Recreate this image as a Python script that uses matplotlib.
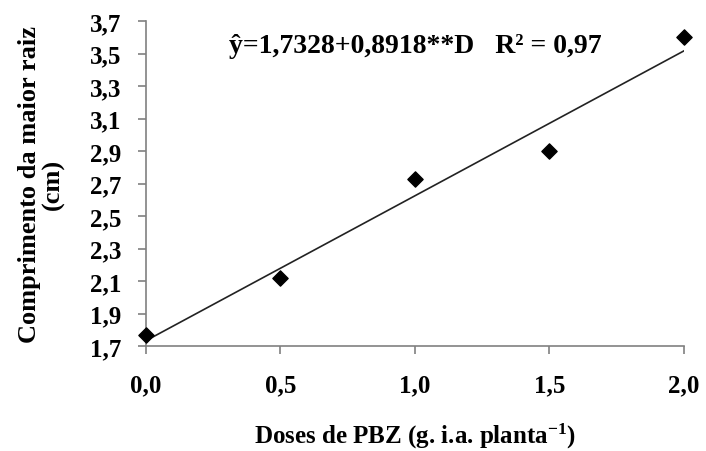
import matplotlib
matplotlib.use("Agg")
import matplotlib.pyplot as plt
import numpy as np

# data
doses = [0.0, 0.5, 1.0, 1.5, 2.0]
comprimento = [1.77, 2.12, 2.73, 2.90, 3.60]
intercept = 1.7328
slope = 0.8918
y_ticks = [1.7, 1.9, 2.1, 2.3, 2.5, 2.7, 2.9, 3.1, 3.3, 3.5, 3.7]
x_ticks = [0.0, 0.5, 1.0, 1.5, 2.0]

plt.rcParams["font.family"] = ["Liberation Serif", "DejaVu Serif"]
plt.rcParams["font.weight"] = "bold"
plt.rcParams["mathtext.fontset"] = "custom"
plt.rcParams["mathtext.rm"] = "Liberation Serif:bold"
plt.rcParams["mathtext.it"] = "Liberation Serif:bold"
plt.rcParams["mathtext.bf"] = "Liberation Serif:bold"

fig = plt.figure(figsize=(7.06, 4.52), dpi=100)
ax = fig.add_axes([0.2068, 0.2323, 0.7620, 0.7190])

ax.scatter(doses, comprimento, marker="D", s=60, color="black", zorder=3, clip_on=False)
xs = np.array([doses[0], doses[-1]])
ax.plot(xs, intercept + slope * xs, color="#222222", linewidth=1.2)

ax.set_xlim(0, 2.0)
ax.set_ylim(1.7, 3.7)
ax.set_xticks(x_ticks)
ax.set_yticks(y_ticks)
ax.set_xticklabels([f"{v:.1f}".replace(".", ",") for v in x_ticks], fontsize=18, fontweight="bold")
ax.set_yticklabels([f"{v:.1f}".replace(".", ",") for v in y_ticks], fontsize=18, fontweight="bold")

for side in ("top", "right"):
    ax.spines[side].set_visible(False)
for side in ("left", "bottom"):
    ax.spines[side].set_color("#808080")
    ax.spines[side].set_linewidth(1.2)
ax.tick_params(axis="both", colors="#808080", labelcolor="black", length=6, width=1.2)
ax.tick_params(axis="y", pad=12)
ax.tick_params(axis="x", pad=14)

ax.set_ylabel("Comprimento da maior raiz\n(cm)", fontsize=19, fontweight="bold", labelpad=18, linespacing=1.0)
ax.set_xlabel("Doses de PBZ (g. i.a. planta$^{-1}$)", fontsize=18, fontweight="bold", labelpad=17)

ax.text(0.5, 0.925, "ŷ=1,7328+0,8918**D   R² = 0,97", transform=ax.transAxes,
        fontsize=20, fontweight="bold", ha="center", va="center")

fig.savefig("out.png", dpi=100)
plt.close(fig)
